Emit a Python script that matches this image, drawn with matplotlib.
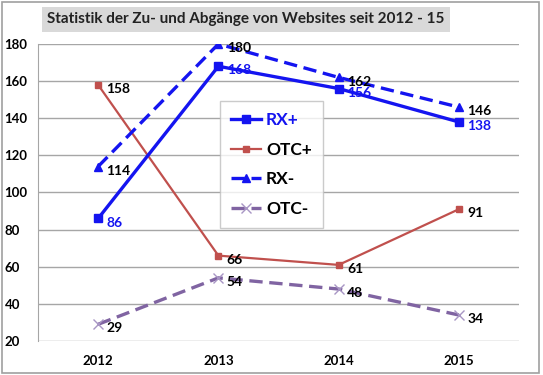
import matplotlib.pyplot as plt
from matplotlib.patches import Rectangle

years = ["2012", "2013", "2014", "2015"]
rx_plus = [86, 168, 156, 138]
otc_plus = [158, 66, 61, 91]
rx_minus = [114, 180, 162, 146]
otc_minus = [29, 54, 48, 34]

plt.rcParams['font.family'] = ['Lato', 'DejaVu Sans']
plt.rcParams['font.weight'] = 'bold'

fig = plt.figure(figsize=(5.43, 3.75), dpi=100)
ax = fig.add_axes([38/543, 1 - 341/375, (519-38)/543, (341-44)/375])

x = range(len(years))
blue = "#1414F0"
red = "#C0504D"
purple = "#8064A2"

ax.plot(x, rx_plus, color=blue, lw=2.4, marker="s", ms=5.5, label="RX+", zorder=4)
ax.plot(x, otc_plus, color=red, lw=1.6, marker="s", ms=5, label="OTC+", zorder=3)
ax.plot(x, rx_minus, color=blue, lw=2.4, ls=(0, (4, 2)), marker="^", ms=6, label="RX-", zorder=3)
ax.plot(x, otc_minus, color=purple, lw=2.4, ls=(0, (4, 2)), marker="x", ms=7,
        mec="#A896C4", mew=1, label="OTC-", zorder=3)

# data labels
for vals, col in [(rx_plus, blue), (otc_plus, "black"), (rx_minus, "black"), (otc_minus, "black")]:
    for i, v in enumerate(vals):
        ax.annotate(str(v), (i, v), xytext=(6, -3), textcoords="offset points",
                    ha="left", va="center", fontsize=10, color=col, fontweight="bold", zorder=5)

ax.set_xlim(-0.5, 3.5)
ax.set_ylim(20, 180)
ax.set_yticks(range(20, 181, 20))
ax.set_xticks(list(x))
ax.set_xticklabels(years)
ax.tick_params(length=0, labelsize=9.5, pad=10)
ax.tick_params(axis="y", pad=24)
for lbl in ax.get_yticklabels():
    lbl.set_ha("left")
ax.grid(axis="y", color="#A6A6A6", lw=1)
ax.set_axisbelow(True)
for s in ["top", "right", "bottom"]:
    ax.spines[s].set_visible(False)
ax.spines["left"].set_color("#A6A6A6")

leg = ax.legend(loc="upper left", bbox_to_anchor=((220-38)/481, (341-101)/297),
                borderaxespad=0, fontsize=12.5, frameon=True, fancybox=False,
                edgecolor="#BFBFBF", handlelength=1.7, labelspacing=0.78,
                borderpad=0.65, handletextpad=0.3)
leg.get_frame().set_linewidth(1)
for t in leg.get_texts():
    t.set_fontweight("bold")
leg.get_texts()[0].set_color(blue)

fig.text(246/543, 1 - 19/375, "Statistik der Zu- und Abgänge von Websites seit 2012 - 15",
         ha="center", va="center", fontsize=11, fontweight="bold", color="#222222",
         bbox=dict(facecolor="#D9D9D9", edgecolor="none", pad=4))

fig.patches.append(Rectangle((0.003, 0.005), 0.99, 0.99, transform=fig.transFigure,
                             fill=False, edgecolor="#A0A0A0", lw=1.2))

fig.savefig("out.png", dpi=100)
